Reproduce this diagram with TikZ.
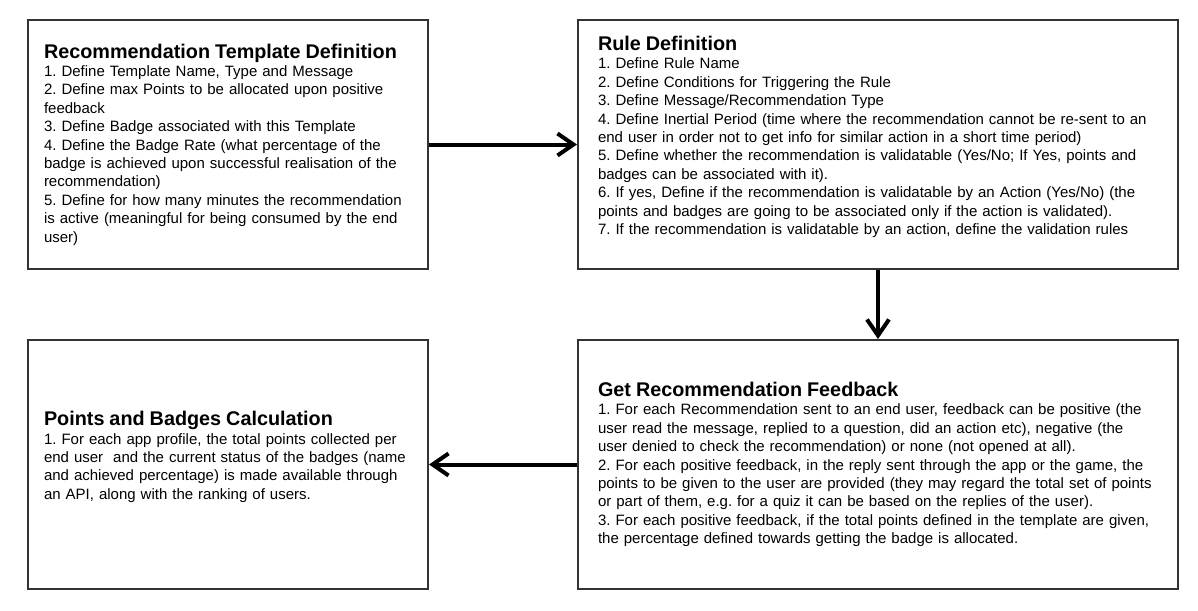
\documentclass[tikz,border=0pt]{standalone}
\usepackage{fontspec}
\setmainfont{Liberation Sans}
\usetikzlibrary{arrows.meta}
\definecolor{boxgray}{HTML}{333333}
\newcommand{\boxtitle}[1]{{\fontsize{19.8}{22}\selectfont\bfseries #1}}
\frenchspacing
\begin{document}
\begin{tikzpicture}[x=1pt,y=-1pt,
    box/.style={draw=boxgray, line width=2pt, minimum width=400pt, minimum height=249pt,
      align=left, inner xsep=16pt, text width=368pt, font=\fontsize{15}{18.4}\selectfont\frenchspacing},
    wide/.style={minimum width=600pt, inner xsep=20pt, text width=560pt},
    flow/.style={line width=4pt, -{Straight Barb[length=16pt,width=22pt]}}]
  \useasboundingbox (0,0) rectangle (1198,610);

  \node[box] (template) at (228,144.5) {\boxtitle{Recommendation Template Definition}\\
    1. Define Template Name, Type and Message\\
    2. Define max Points to be allocated upon positive\\
    feedback\\
    3. Define Badge associated with this Template\\
    4. Define the Badge Rate (what percentage of the\\
    badge is achieved upon successful realisation of the\\
    recommendation)\\
    5. Define for how many minutes the recommendation\\
    is active (meaningful for being consumed by the end\\
    user)};

  \node[box,wide] (rule) at (878,144.5) {\boxtitle{Rule Definition}\\
    1. Define Rule Name\\
    2. Define Conditions for Triggering the Rule\\
    3. Define Message/Recommendation Type\\
    4. Define Inertial Period (time where the recommendation cannot be re-sent to an\\
    end user in order not to get info for similar action in a short time period)\\
    5. Define whether the recommendation is validatable (Yes/No; If Yes, points and\\
    badges can be associated with it).\\
    6. If yes, Define if the recommendation is validatable by an Action (Yes/No) (the\\
    points and badges are going to be associated only if the action is validated).\\
    7. If the recommendation is validatable by an action, define the validation rules\\
    \mbox{}};

  \node[box,wide] (feedback) at (878,464.5) {\boxtitle{Get Recommendation Feedback}\\
    1. For each Recommendation sent to an end user, feedback can be positive (the\\
    user read the message, replied to a question, did an action etc), negative (the\\
    user denied to check the recommendation) or none (not opened at all).\\
    2. For each positive feedback, in the reply sent through the app or the game, the\\
    points to be given to the user are provided (they may regard the total set of points\\
    or part of them, e.g. for a quiz it can be based on the replies of the user).\\
    3. For each positive feedback, if the total points defined in the template are given,\\
    the percentage defined towards getting the badge is allocated.};

  \node[box] (calc) at (228,464.5) {\boxtitle{Points and Badges Calculation}\\
    1. For each app profile, the total points collected per\\
    end user\ \ and the current status of the badges (name\\
    and achieved percentage) is made available through\\
    an API, along with the ranking of users.\\
    \mbox{}};

  \draw[flow] (template.east) -- (rule.west);
  \draw[flow] (rule.south) -- (feedback.north);
  \draw[flow] (feedback.west) -- (calc.east);

\end{tikzpicture}
\end{document}
